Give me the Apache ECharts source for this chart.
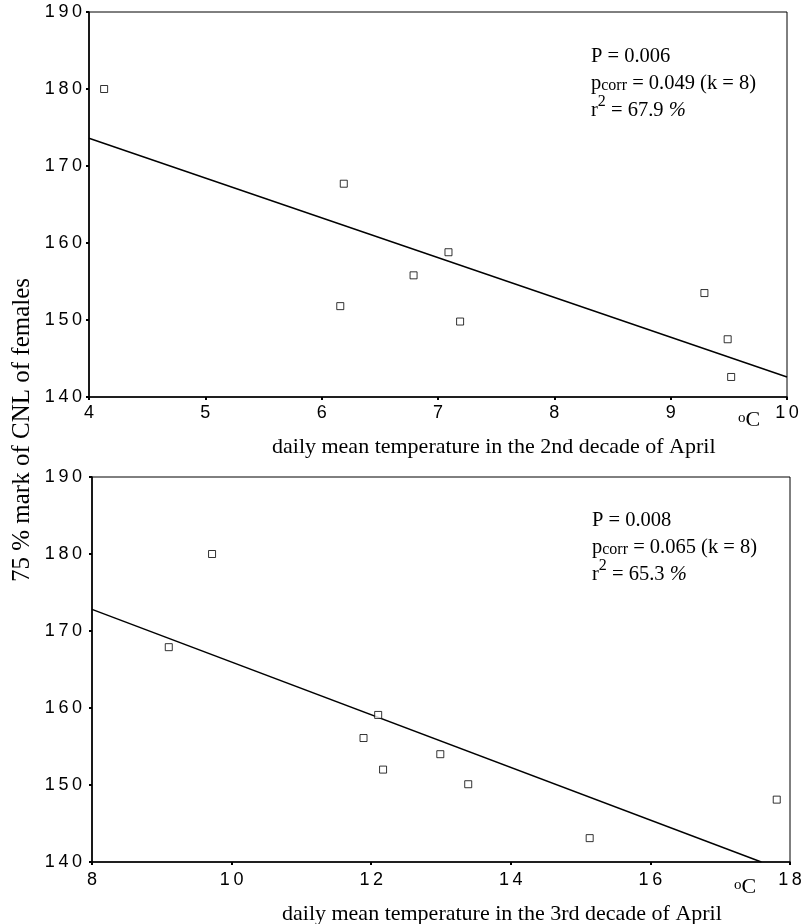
<!DOCTYPE html>
<html>
<head>
<meta charset="utf-8">
<script src="https://cdn.jsdelivr.net/npm/echarts@6/dist/echarts.min.js"></script>
<style>html,body{margin:0;padding:0;background:#fff;}#c{width:805px;height:924px;}</style>
</head>
<body>
<div id="c"></div>
<script>
// Top panel: 2nd decade of April
const tempApr2 = [4.13, 6.19, 6.16, 6.79, 7.09, 7.19, 9.29, 9.49, 9.52];
const cnlApr2  = [180.0, 167.7, 151.8, 155.8, 158.8, 149.8, 153.5, 147.5, 142.6];
const fitApr2X = [4, 10];
const fitApr2Y = [173.6, 142.6];
// Bottom panel: 3rd decade of April
const tempApr3 = [9.72, 9.10, 12.10, 11.89, 12.17, 12.99, 13.39, 15.13, 17.81];
const cnlApr3  = [180.0, 167.9, 159.1, 156.1, 152.0, 154.0, 150.1, 143.1, 148.1];
const fitApr3X = [8, 17.59];
const fitApr3Y = [172.8, 140.0];
// Axes
const xRange1 = [4, 10], xStep1 = 1;
const xRange2 = [8, 18], xStep2 = 2;
const yRange = [140, 190], yStep = 10;

const zip = (a, b) => a.map((v, i) => [v, b[i]]);
const spaced = v => String(v).split('').join('\u2009');
const serif = '"Liberation Serif", "Times New Roman", serif';
const sans = '"Liberation Sans", Arial, Helvetica, sans-serif';

function xAxis(idx, r, step, margin) {
  return {
    type: 'value', gridIndex: idx, min: r[0], max: r[1], interval: step,
    axisLine: { show: true, lineStyle: { color: '#000', width: 1.6 } },
    axisTick: { show: true, length: 3, lineStyle: { color: '#000', width: 2 } },
    axisLabel: { color: '#000', fontFamily: sans, fontSize: 18, margin: margin, formatter: spaced },
    splitLine: { show: false }
  };
}
function yAxis(idx, margin) {
  return {
    type: 'value', gridIndex: idx, min: yRange[0], max: yRange[1], interval: yStep,
    axisLine: { show: true, lineStyle: { color: '#000', width: 1.6 } },
    axisTick: { show: true, length: 3, lineStyle: { color: '#000', width: 2 } },
    axisLabel: { color: '#000', fontFamily: sans, fontSize: 18, margin: margin, formatter: spaced },
    splitLine: { show: false }
  };
}
const pointStyle = { color: '#fff', borderColor: '#000', borderWidth: 1 };

const annRich = {
  m: { fontFamily: serif, fontSize: 20.5, lineHeight: 27, verticalAlign: 'bottom', color: '#000' },
  i: { fontFamily: serif, fontSize: 20.5, fontStyle: 'italic', lineHeight: 27, verticalAlign: 'bottom', color: '#000' },
  s: { fontFamily: serif, fontSize: 16, lineHeight: 16, verticalAlign: 'bottom', color: '#000' },
  u: { fontFamily: serif, fontSize: 16, lineHeight: 18, verticalAlign: 'top', color: '#000' }
};
const degRich = {
  o: { fontFamily: serif, fontSize: 15, lineHeight: 20, verticalAlign: 'top', color: '#000' },
  c: { fontFamily: serif, fontSize: 22, lineHeight: 20, verticalAlign: 'bottom', color: '#000' }
};

const chart = echarts.init(document.getElementById('c'), null, { renderer: 'canvas' });
chart.setOption({
  backgroundColor: '#fff',
  animation: false,
  grid: [
    { left: 89, top: 12, width: 698, height: 385, show: true, borderColor: '#000', borderWidth: 1, backgroundColor: 'transparent' },
    { left: 92, top: 477, width: 698, height: 385, show: true, borderColor: '#000', borderWidth: 1, backgroundColor: 'transparent' }
  ],
  xAxis: [xAxis(0, xRange1, xStep1, 7), xAxis(1, xRange2, xStep2, 9)],
  yAxis: [yAxis(0, 7), yAxis(1, 10)],
  series: [
    { type: 'line', xAxisIndex: 0, yAxisIndex: 0, data: zip(fitApr2X, fitApr2Y), showSymbol: false, symbol: 'none',
      lineStyle: { color: '#000', width: 1.4 }, z: 2 },
    { type: 'scatter', xAxisIndex: 0, yAxisIndex: 0, data: zip(tempApr2, cnlApr2), symbol: 'rect', symbolSize: 7,
      itemStyle: pointStyle, z: 3 },
    { type: 'line', xAxisIndex: 1, yAxisIndex: 1, data: zip(fitApr3X, fitApr3Y), showSymbol: false, symbol: 'none',
      lineStyle: { color: '#000', width: 1.4 }, z: 2 },
    { type: 'scatter', xAxisIndex: 1, yAxisIndex: 1, data: zip(tempApr3, cnlApr3), symbol: 'rect', symbolSize: 7,
      itemStyle: pointStyle, z: 3 }
  ],
  graphic: [
    { type: 'text', left: 591, top: 46, style: {
        text: '{m|P = 0.006}\n{m|p}{s|corr}{m| = 0.049 (k = 8)}\n{m|r}{u|2}{m| = 67.9 }{i|%}', rich: annRich, fill: '#000' } },
    { type: 'text', left: 592, top: 510, style: {
        text: '{m|P = 0.008}\n{m|p}{s|corr}{m| = 0.065 (k = 8)}\n{m|r}{u|2}{m| = 65.3 }{i|%}', rich: annRich, fill: '#000' } },
    { type: 'text', left: 738, top: 409, style: { text: '{o|o}{c|C}', rich: degRich, fill: '#000' } },
    { type: 'text', left: 734, top: 876, style: { text: '{o|o}{c|C}', rich: degRich, fill: '#000' } },
    { type: 'text', left: 272, top: 436, style: {
        text: 'daily mean temperature in the 2nd decade of April', fontFamily: serif, fontSize: 22, fill: '#000' } },
    { type: 'text', left: 282, top: 903, style: {
        text: 'daily mean temperature in the 3rd decade of April', fontFamily: serif, fontSize: 22, fill: '#000' } },
    { type: 'text', x: 22, y: 430, rotation: Math.PI / 2, style: {
        text: '75 % mark of CNL of females', fontFamily: serif, fontSize: 25, fill: '#000', align: 'center', verticalAlign: 'middle' } }
  ]
});
</script>
</body>
</html>
